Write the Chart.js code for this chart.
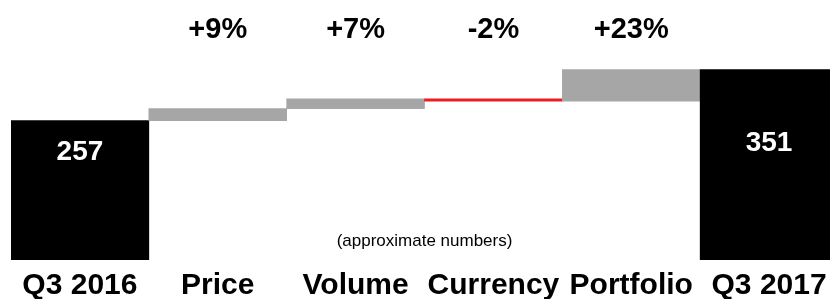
<!DOCTYPE html>
<html>
<head>
<meta charset="utf-8">
<script src="https://cdn.jsdelivr.net/npm/chart.js@4/dist/chart.umd.min.js"></script>
<style>
    html, body { margin: 0; padding: 0; background: #fff; overflow: hidden; }
    #wrap { width: 838px; height: 312px; }
</style>
</head>
<body>
<div id="wrap"><canvas id="bridgeChart"></canvas></div>
<script>
// Sales bridge Q3 2016 -> Q3 2017
const categories = ['Q3 2016', 'Price', 'Volume', 'Currency', 'Portfolio', 'Q3 2017'];
const startValue = 257;
const endValue = 351;
const deltas = [22, 18, -4, 58];
const deltaLabels = ['+9%', '+7%', '-2%', '+23%'];
const note = '(approximate numbers)';

const BLACK = '#000000';
const GREY = '#a6a6a6';
const RED = '#ed1c24';
const FONT = '"Liberation Sans", Arial, sans-serif';

// build floating bars [low, high]
const bars = [[0, startValue]];
const colors = [BLACK];
let running = startValue;
deltas.forEach(d => {
    bars.push([Math.min(running, running + d), Math.max(running, running + d)]);
    colors.push(d < 0 ? RED : GREY);
    running += d;
});
bars.push([0, endValue]);
colors.push(BLACK);

const bridgeLabels = {
    id: 'bridgeLabels',
    afterDatasetsDraw(chart) {
        const ctx = chart.ctx;
        const meta = chart.getDatasetMeta(0);
        const area = chart.chartArea;
        ctx.save();
        ctx.textAlign = 'center';
        ctx.textBaseline = 'middle';

        // percentages on top
        ctx.fillStyle = BLACK;
        ctx.font = 'bold 29px ' + FONT;
        deltaLabels.forEach((txt, i) => {
            const bar = meta.data[i + 1];
            ctx.fillText(txt, bar.x, 30);
        });

        // totals inside black bars
        ctx.fillStyle = '#ffffff';
        ctx.font = 'bold 28px ' + FONT;
        const totals = [[0, startValue, 32], [meta.data.length - 1, endValue, 74]];
        totals.forEach(([idx, val, offset]) => {
            const bar = meta.data[idx];
            ctx.fillText(String(val), bar.x, bar.y + offset);
        });

        // footnote
        ctx.fillStyle = BLACK;
        ctx.font = '17px ' + FONT;
        const mid = (meta.data[2].x + meta.data[3].x) / 2;
        ctx.fillText(note, mid, area.bottom - 19);
        ctx.restore();
    }
};

new Chart(document.getElementById('bridgeChart'), {
    type: 'bar',
    data: {
        labels: categories,
        datasets: [{
            data: bars,
            backgroundColor: colors,
            borderWidth: 0,
            borderSkipped: false,
            barPercentage: 1,
            categoryPercentage: 1
        }]
    },
    options: {
        responsive: true,
        maintainAspectRatio: false,
        animation: false,
        layout: { padding: { left: 11, right: 0, top: 43, bottom: 0 } },
        plugins: {
            legend: { display: false },
            tooltip: { enabled: false }
        },
        scales: {
            x: {
                grid: { display: false, drawTicks: false },
                border: { display: false },
                ticks: {
                    color: BLACK,
                    padding: 11,
                    maxRotation: 0,
                    autoSkip: false,
                    font: { family: FONT, size: 30, weight: 'bold', lineHeight: 1 }
                }
            },
            y: {
                display: false,
                min: 0,
                max: 400
            }
        }
    },
    plugins: [bridgeLabels]
});
</script>
</body>
</html>
